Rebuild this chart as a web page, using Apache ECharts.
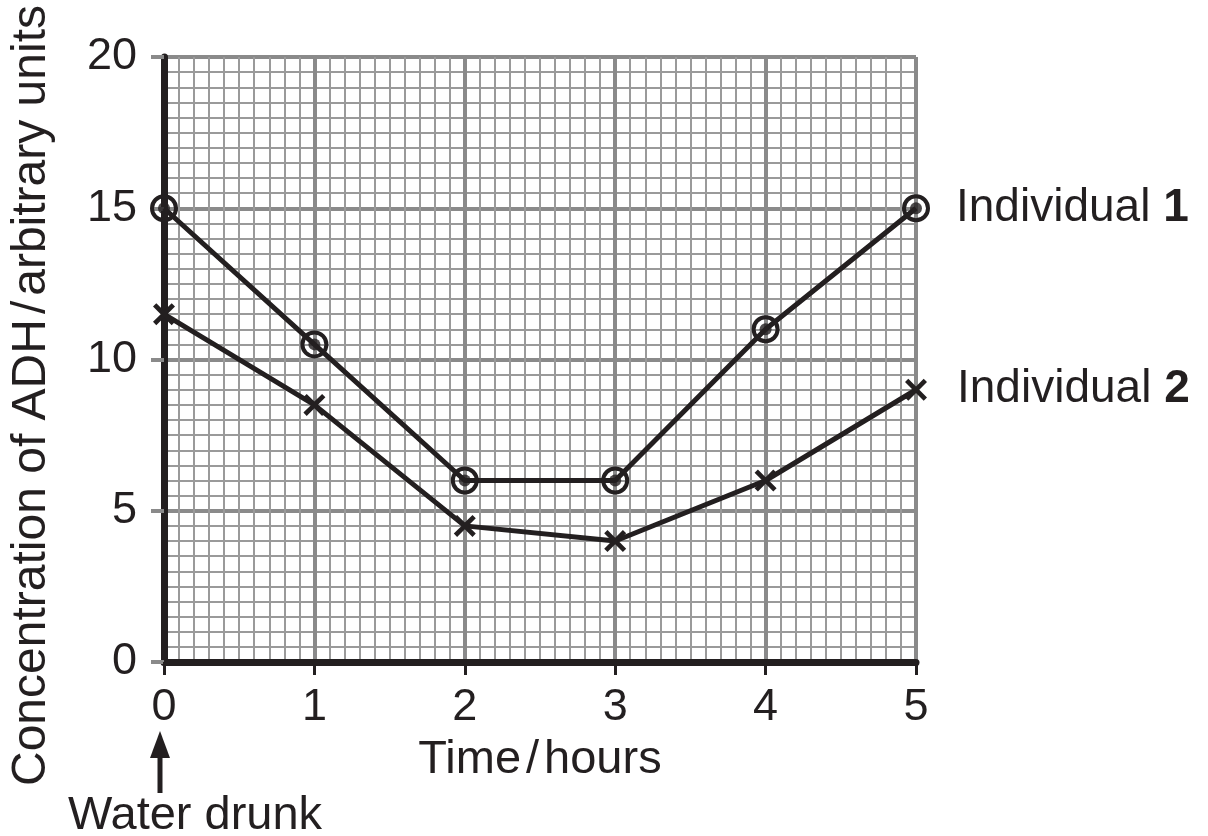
<!DOCTYPE html>
<html>
<head>
<meta charset="utf-8">
<style>
  html, body { margin: 0; padding: 0; background: #fff; }
  #main { width: 1208px; height: 836px; }
</style>
<script src="https://cdn.jsdelivr.net/npm/echarts@6/dist/echarts.min.js"></script>
</head>
<body>
<div id="main"></div>
<script>
var dom = document.getElementById("main");
var myChart = echarts.init(dom);

// data
var times = [0, 1, 2, 3, 4, 5];
var individual1 = [15, 10.5, 6, 6, 11, 15];
var individual2 = [11.5, 8.5, 4.5, 4, 6, 9];
var xTicks = [0, 1, 2, 3, 4, 5];
var yTicks = [0, 5, 10, 15, 20];

var ink = '#231f20';
var font = 'Liberation Sans, Arial, sans-serif';

function pairs(vals) {
    return times.map(function (t, i) { return [t, vals[i]]; });
}

var crossPath = 'path://M1.5,0 L5,3.5 L8.5,0 L10,1.5 L6.5,5 L10,8.5 L8.5,10 L5,6.5 L1.5,10 L0,8.5 L3.5,5 L0,1.5 Z';

var option = {
    animation: false,
    backgroundColor: '#fff',
    textStyle: { fontFamily: font, color: ink },
    grid: { left: 160, right: 292, top: 57, bottom: 174 },
    xAxis: {
        type: 'value',
        min: xTicks[0],
        max: xTicks[xTicks.length - 1],
        interval: xTicks[1] - xTicks[0],
        name: '{n|Time}{s|/}{n|hours}',
        nameLocation: 'middle',
        nameGap: 75,
        nameTextStyle: {
            rich: {
                n: { fontSize: 47, color: ink, fontFamily: font },
                s: { fontSize: 47, color: ink, fontFamily: font, padding: [0, 5, 0, 5] }
            }
        },
        axisLine: { show: true, onZero: false, lineStyle: { color: ink, width: 7 } },
        axisTick: { show: true, length: 13, lineStyle: { color: ink, width: 3 } },
        axisLabel: { fontSize: 45, color: ink, margin: 23, fontFamily: font },
        splitLine: { show: true, lineStyle: { color: '#8a8a8a', width: 4 } },
        minorTick: { show: false, splitNumber: 10 },
        minorSplitLine: { show: true, lineStyle: { color: '#9a9a9a', width: 2 } }
    },
    yAxis: {
        type: 'value',
        min: yTicks[0],
        max: yTicks[yTicks.length - 1],
        interval: yTicks[1] - yTicks[0],
        name: '{n|Concentration of ADH}{s|/}{n|arbitrary units}',
        nameLocation: 'middle',
        nameGap: 108,
        nameTextStyle: {
            padding: [0, 72, 0, 0],
            rich: {
                n: { fontSize: 48, color: ink, fontFamily: font },
                s: { fontSize: 48, color: ink, fontFamily: font, padding: [0, 5, 0, 5] }
            }
        },
        axisLine: { show: true, onZero: false, lineStyle: { color: ink, width: 7 } },
        axisTick: { show: true, length: 13, lineStyle: { color: '#8a8a8a', width: 4 } },
        axisLabel: { fontSize: 45, color: ink, margin: 27, fontFamily: font },
        splitLine: { show: true, lineStyle: { color: '#8a8a8a', width: 4 } },
        minorTick: { show: false, splitNumber: 10 },
        minorSplitLine: { show: true, lineStyle: { color: '#9a9a9a', width: 2 } }
    },
    series: [
        {
            name: 'Individual 1',
            type: 'line',
            data: pairs(individual1),
            symbol: 'circle',
            symbolSize: 24,
            showAllSymbol: true,
            lineStyle: { color: ink, width: 5 },
            itemStyle: { color: 'rgba(0,0,0,0)', borderColor: ink, borderWidth: 4 },
            z: 3,
            endLabel: {
                show: true,
                distance: 40,
                formatter: '{n|Individual }{b|1}',
                rich: {
                    n: { fontSize: 46, color: ink, fontFamily: font },
                    b: { fontSize: 46, color: ink, fontFamily: font, fontWeight: 'bold' }
                }
            }
        },
        {
            name: 'Individual 1 centre',
            type: 'scatter',
            data: pairs(individual1),
            symbol: 'circle',
            symbolSize: 12,
            itemStyle: { color: ink },
            z: 4
        },
        {
            name: 'Individual 2',
            type: 'line',
            data: pairs(individual2),
            symbol: crossPath,
            symbolSize: 22,
            showAllSymbol: true,
            lineStyle: { color: ink, width: 5 },
            itemStyle: { color: ink },
            z: 3,
            endLabel: {
                show: true,
                distance: 41,
                formatter: '{n|Individual }{b|2}',
                rich: {
                    n: { fontSize: 46, color: ink, fontFamily: font },
                    b: { fontSize: 46, color: ink, fontFamily: font, fontWeight: 'bold' }
                }
            }
        }
    ],
    graphic: [
        {
            type: 'rect',
            shape: { x: 157.5, y: 755, width: 5, height: 38 },
            style: { fill: ink }
        },
        {
            type: 'polygon',
            shape: { points: [[160, 731], [150, 758], [170, 758]] },
            style: { fill: ink }
        },
        {
            type: 'text',
            x: 195,
            y: 793,
            style: {
                text: 'Water drunk',
                fontSize: 47,
                fontFamily: font,
                fill: ink,
                align: 'center',
                verticalAlign: 'top'
            }
        }
    ]
};

myChart.setOption(option, true);

window.addEventListener("resize", function () {
    myChart.resize();
});
</script>
</body>
</html>
